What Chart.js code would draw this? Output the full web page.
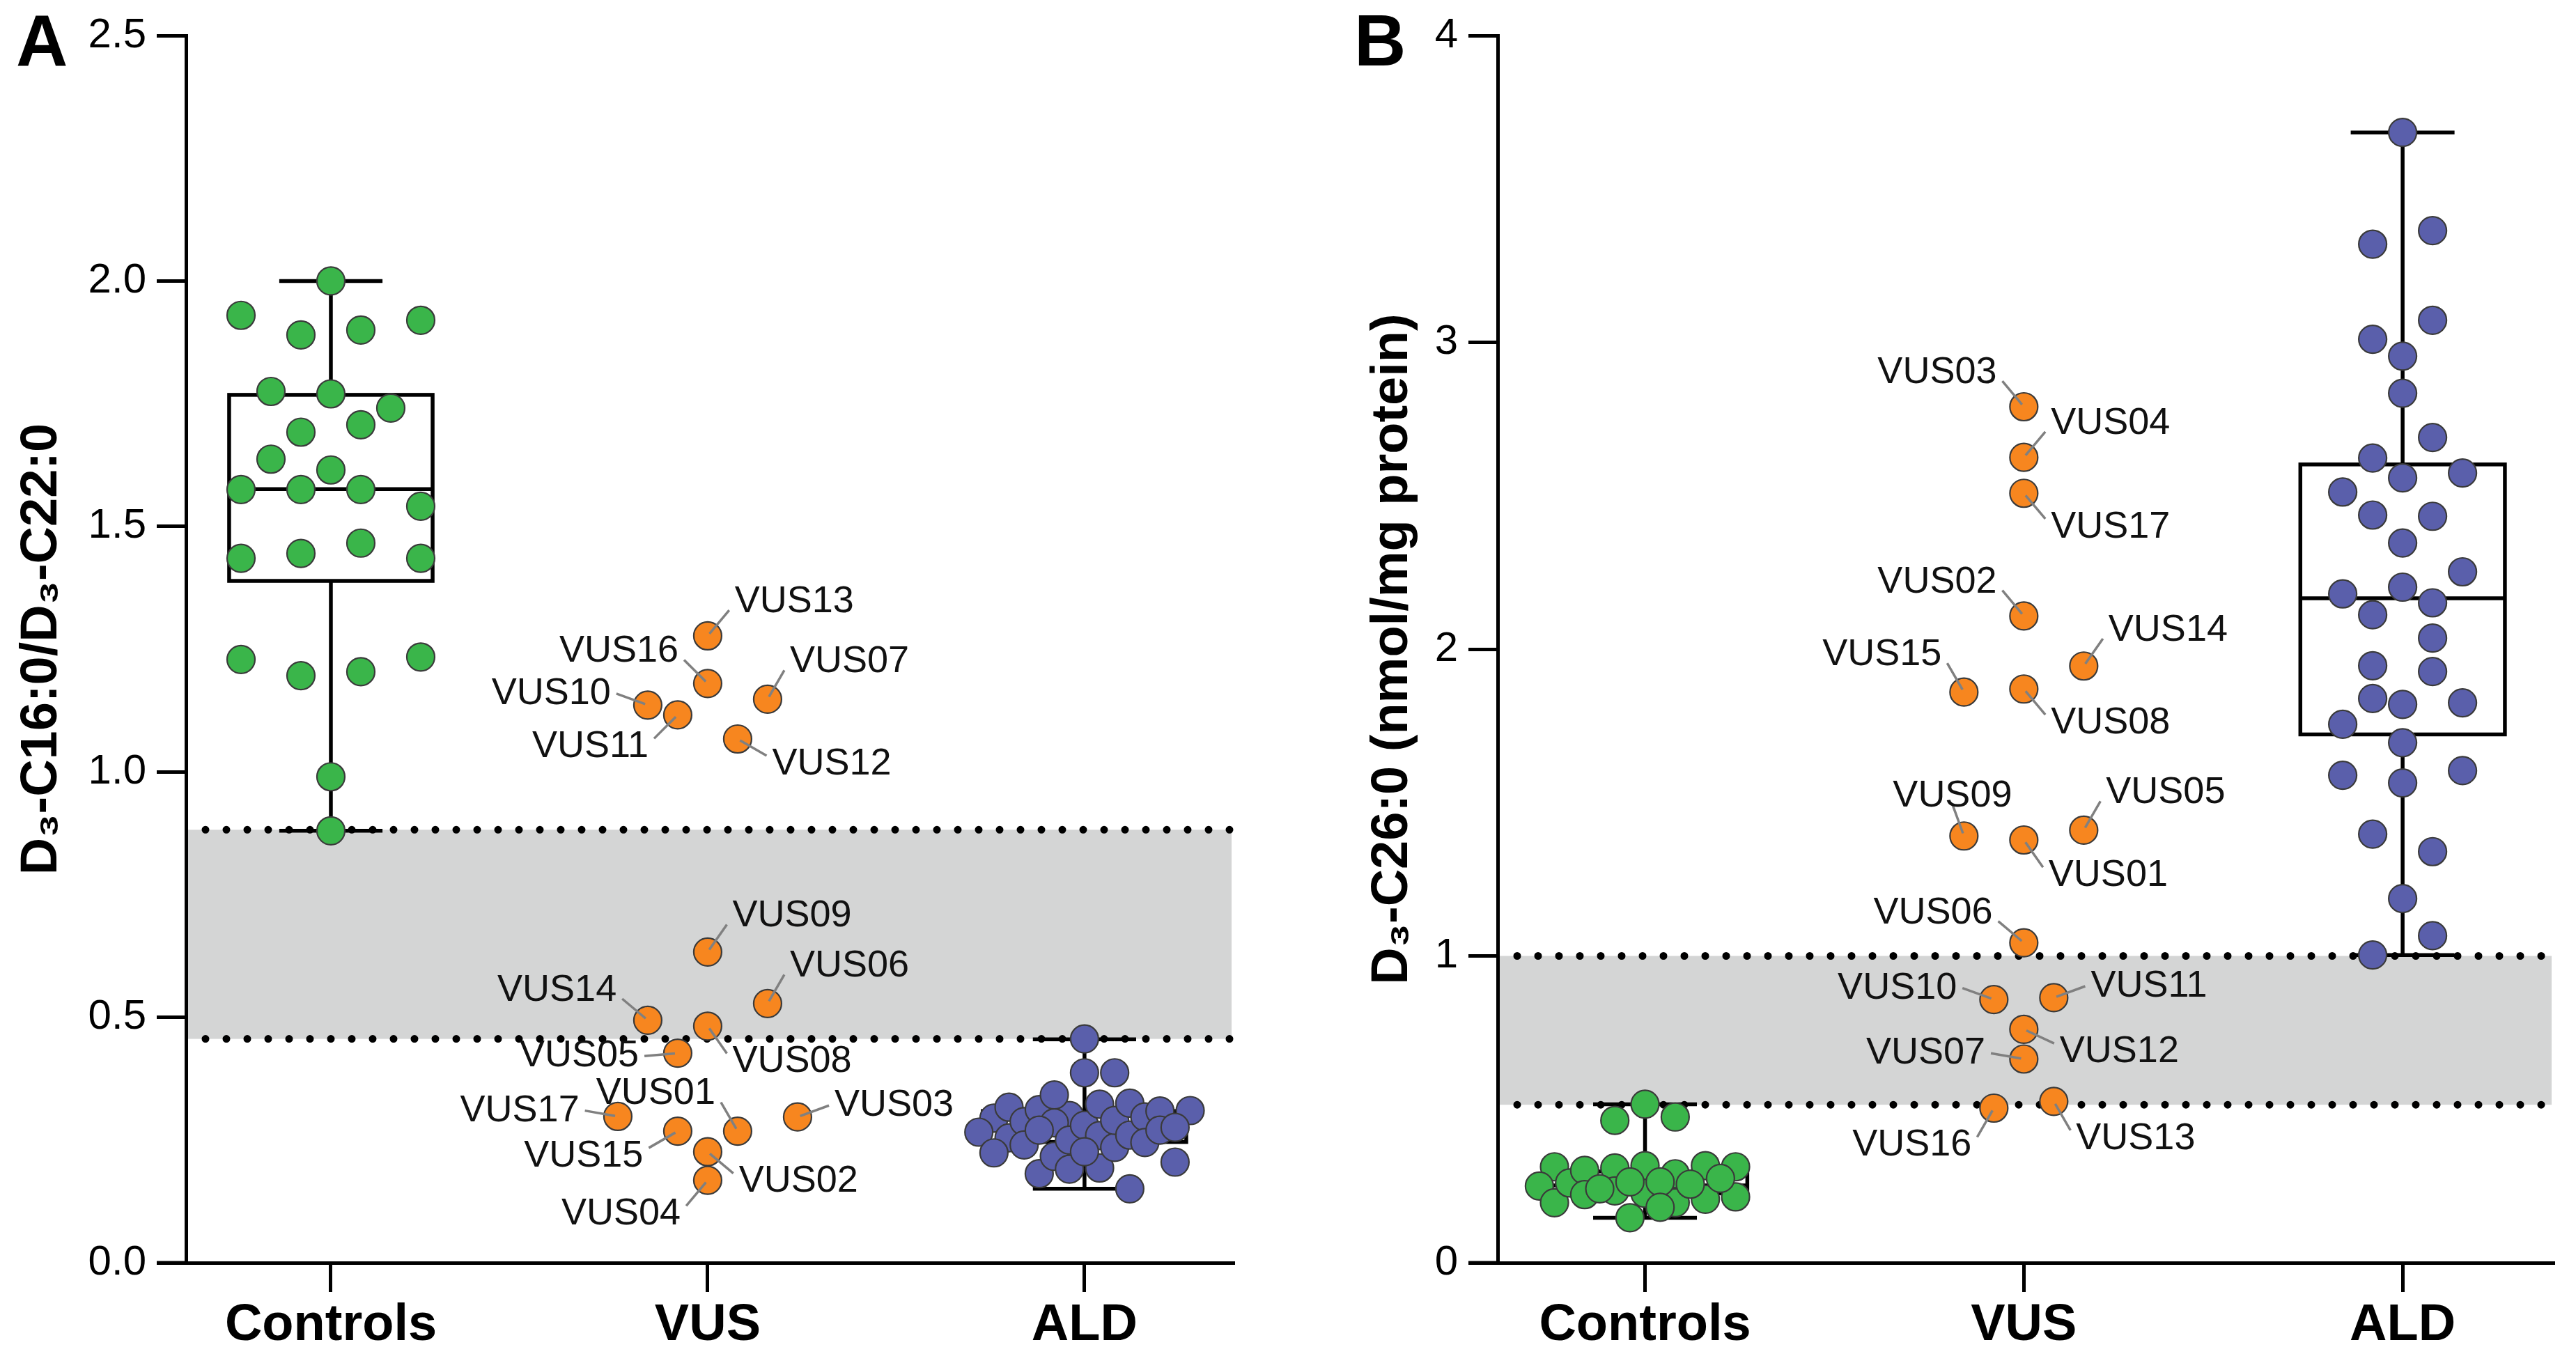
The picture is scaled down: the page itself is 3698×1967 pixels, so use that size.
<!DOCTYPE html>
<html><head><meta charset="utf-8">
<script src="https://cdn.jsdelivr.net/npm/chart.js@4.4.1/dist/chart.umd.min.js"></script>
<style>
html,body{margin:0;padding:0;background:#fff;}
body{width:3698px;height:1967px;position:relative;overflow:hidden;font-family:'Liberation Sans',Arial,sans-serif;}
.wrap{position:absolute;top:0;height:1967px;}
#wa{left:0;width:1900px;}
#wb{left:1900px;width:1798px;}
canvas{display:block;}
.panel{position:absolute;font-weight:bold;font-size:103px;line-height:1;color:#000;font-family:'Liberation Sans',Arial,sans-serif;}
</style></head><body>
<div class="wrap" id="wa"><canvas id="ca"></canvas></div>
<div class="wrap" id="wb"><canvas id="cb"></canvas></div>
<div class="panel" style="left:23px;top:7px">A</div>
<div class="panel" style="left:1944px;top:7px">B</div>
<script>
// ---------------- data ----------------
const categories = ['Controls', 'VUS', 'ALD'];

// Panel A: D3-C16:0 / D3-C22:0
const ticksA = [0, 0.5, 1.0, 1.5, 2.0, 2.5];
const controlsA = [2.0, 1.93, 1.89, 1.90, 1.92, 1.775, 1.77, 1.637, 1.692, 1.707, 1.741, 1.575, 1.615, 1.575, 1.575, 1.541, 1.435, 1.445, 1.466, 1.435, 1.229, 1.196, 1.204, 1.234, 0.99, 0.88];
const vusNamesA = ['VUS13','VUS10','VUS16','VUS07','VUS11','VUS12','VUS09','VUS14','VUS08','VUS06','VUS05','VUS17','VUS15','VUS01','VUS03','VUS02','VUS04'];
const vusA = [1.277, 1.136, 1.18, 1.148, 1.116, 1.067, 0.633, 0.494, 0.482, 0.528, 0.427, 0.298, 0.268, 0.268, 0.297, 0.226, 0.168];
const aldA = [0.2946, 0.3168, 0.266, 0.2545, 0.2875, 0.2238, 0.312, 0.30, 0.3418, 0.240, 0.1813, 0.2851, 0.27, 0.2167, 0.387, 0.456, 0.1907, 0.25, 0.387, 0.193, 0.28, 0.323, 0.259, 0.2262, 0.235, 0.29, 0.325, 0.1506, 0.26, 0.297, 0.245, 0.205, 0.309, 0.27, 0.31, 0.2757];
// box stats: [min, q1, median, q3, max]
const boxControlsA = [0.88, 1.389, 1.576, 1.768, 2.0];
const boxAldA = [0.1506, 0.246, 0.272, 0.309, 0.455];
const cutoffA = [0.456, 0.882];

// Panel B: D3-C26:0 (nmol/mg protein)
const ticksB = [0, 1, 2, 3, 4];
const controlsB = [0.3127, 0.250, 0.1956, 0.26, 0.301, 0.222, 0.309, 0.234, 0.3166, 0.4638, 0.1466, 0.5166, 0.241, 0.226, 0.475, 0.2636, 0.29, 0.1956, 0.3166, 0.2069, 0.2636, 0.1806, 0.3127, 0.2146, 0.256, 0.2749];
const vusNamesB = ['VUS03','VUS04','VUS17','VUS02','VUS15','VUS08','VUS14','VUS09','VUS01','VUS05','VUS06','VUS10','VUS11','VUS12','VUS07','VUS16','VUS13'];
const vusB = [2.790, 2.625, 2.508, 2.108, 1.86, 1.87, 1.945, 1.391, 1.378, 1.41, 1.043, 0.858, 0.864, 0.761, 0.664, 0.504, 0.526];
const aldB = [3.684, 3.320, 3.364, 3.010, 3.072, 2.955, 2.834, 2.623, 2.690, 2.512, 2.558, 2.574, 2.437, 2.346, 2.433, 2.180, 2.202, 2.252, 2.112, 2.151, 1.946, 2.036, 1.839, 1.927, 1.755, 1.820, 1.825, 1.695, 1.589, 1.564, 1.604, 1.397, 1.340, 1.187, 1.003, 1.066];
const boxControlsB = [0.1465, 0.226, 0.252, 0.2976, 0.5166];
const boxAldB = [1.003, 1.722, 2.166, 2.602, 3.684];
const cutoffB = [0.515, 1.0];

// ---------------- label layout (leader-line direction, degrees) ----------------
const labelDirA = {VUS13:50, VUS16:135, VUS07:60, VUS10:160, VUS11:-135, VUS12:-30, VUS09:55, VUS06:60, VUS14:140, VUS08:-55, VUS05:185, VUS01:120, VUS17:170, VUS03:20, VUS15:-150, VUS02:-40, VUS04:-130};
const labelDirB = {VUS03:130, VUS04:50, VUS17:-50, VUS02:130, VUS14:55, VUS15:120, VUS08:-50, VUS09:110, VUS01:-55, VUS05:60, VUS06:140, VUS10:160, VUS11:20, VUS12:-25, VUS07:170, VUS16:-120, VUS13:-60};

// ---------------- style ----------------
const GREEN = '#3ab54a', ORANGE = '#f7861f', BLUE = '#5a5fab', EDGE = '#3a3a3a';
const FONT = "'Liberation Sans', Arial, Helvetica, sans-serif";
const R = 20;
const BOX_HALF = 0.27, CAP_HALF = 0.137;
const SWARM = {rowGap: 40, maxRow: 7, spacing: 86, halfWidth: 130, minDist: 40};
Chart.defaults.font.family = FONT;
Chart.defaults.color = '#000';

// beeswarm layout (pixel offsets from category centre)
function swarmOffsets(values, yScale, o) {
  const py = values.map(v => yScale.getPixelForValue(v));
  const idx = values.map((v, i) => i).sort((a, b) => (values[b] - values[a]) || (a - b));
  const rows = [];
  let cur = null;
  for (const i of idx) {
    if (cur && (py[i] - py[cur[0]]) < o.rowGap && cur.length < o.maxRow) cur.push(i);
    else { cur = [i]; rows.push(cur); }
  }
  const nMax = Math.max(...rows.map(r => r.length));
  const sp = nMax > 1 ? Math.min(o.spacing, 2 * o.halfWidth / (nMax - 1)) : o.spacing;
  const step = sp / 2;
  const off = new Array(values.length).fill(0);
  const placed = [];
  const minD = (row, base, s) => {
    let m = Infinity;
    row.forEach((i, k) => placed.forEach(p => { m = Math.min(m, Math.hypot(p.x - (base[k] + s), p.y - py[i])); }));
    return m;
  };
  const width = (base, s) => Math.max(...base.map(b => Math.abs(b + s)));
  for (const row of rows) {
    row.sort((a, b) => a - b);
    const n = row.length;
    const base = row.map((_, k) => (k - (n - 1) / 2) * sp);
    const shifts = [0];
    for (let k = 1; k <= 6; k++) shifts.push(-k * step, k * step);
    let chosen = null;
    for (const s of shifts) {
      if (width(base, s) > o.halfWidth + 0.5) continue;
      if (minD(row, base, s) >= o.minDist) { chosen = s; break; }
    }
    if (chosen === null) {
      let best = -1;
      for (const s of [0, -step, step]) {
        if (s !== 0 && width(base, s) > o.halfWidth + step + 0.5) continue;
        const m = minD(row, base, s);
        if (m > best + 0.5) { best = m; chosen = s; }
      }
    }
    row.forEach((i, k) => { off[i] = base[k] + chosen; placed.push({x: off[i], y: py[i]}); });
  }
  return off;
}

const decorPlugin = {
  id: 'decor',
  beforeDatasetsDraw(chart) {
    const P = chart.options.plugins.decor;
    const {ctx, chartArea: {left, right, bottom}, scales: {x, y}} = chart;
    const yHi = y.getPixelForValue(P.cutoff[1]), yLo = y.getPixelForValue(P.cutoff[0]);
    ctx.save();
    ctx.fillStyle = '#d4d5d5';
    ctx.fillRect(left + 3, yHi, right - left - 5, yLo - yHi);
    ctx.strokeStyle = '#000';
    ctx.lineWidth = 11; ctx.lineCap = 'round'; ctx.setLineDash([0, 30]);
    for (const yy of [yHi, yLo]) { ctx.beginPath(); ctx.moveTo(left + 28, yy); ctx.lineTo(right, yy); ctx.stroke(); }
    ctx.setLineDash([]); ctx.lineCap = 'butt';
    ctx.lineWidth = 5.5;
    for (const b of P.boxes) {
      const [mn, q1, md, q3, mx] = b.stats;
      const xc = x.getPixelForValue(b.cat);
      const xl = x.getPixelForValue(b.cat - BOX_HALF), xr = x.getPixelForValue(b.cat + BOX_HALF);
      const cl = x.getPixelForValue(b.cat - CAP_HALF), cr = x.getPixelForValue(b.cat + CAP_HALF);
      const Y = v => y.getPixelForValue(v);
      ctx.beginPath();
      ctx.moveTo(xc, Y(q3)); ctx.lineTo(xc, Y(mx));
      ctx.moveTo(xc, Y(q1)); ctx.lineTo(xc, Y(mn));
      ctx.moveTo(cl, Y(mx)); ctx.lineTo(cr, Y(mx));
      ctx.moveTo(cl, Y(mn)); ctx.lineTo(cr, Y(mn));
      ctx.moveTo(xl, Y(md)); ctx.lineTo(xr, Y(md));
      ctx.stroke();
      ctx.strokeRect(xl, Y(q3), xr - xl, Y(q1) - Y(q3));
    }
    // x axis line extends under the y tick marks
    ctx.lineWidth = 5;
    ctx.beginPath(); ctx.moveTo(left - 42, bottom); ctx.lineTo(left, bottom); ctx.stroke();
    ctx.restore();
  },
  afterDatasetsDraw(chart) {
    const P = chart.options.plugins.decor;
    const L = P.labels;
    const {ctx} = chart;
    const meta = chart.getDatasetMeta(L.dataset);
    ctx.save();
    ctx.font = '54px ' + FONT;
    ctx.fillStyle = '#111';
    ctx.strokeStyle = '#808080';
    ctx.lineWidth = 3.5;
    const RL = 48, GX = 8, GY = 12;
    meta.data.forEach((pt, i) => {
      const name = L.names[i];
      const a = L.dir[name] * Math.PI / 180;
      const c = Math.cos(a), s = Math.sin(a);
      const ex = pt.x + RL * c, ey = pt.y - RL * s;
      ctx.beginPath(); ctx.moveTo(pt.x + 4 * c, pt.y - 4 * s); ctx.lineTo(ex, ey); ctx.stroke();
      ctx.textAlign = c > 0.35 ? 'left' : (c < -0.35 ? 'right' : 'center');
      ctx.textBaseline = 'middle';
      const tx = c > 0.35 ? ex + GX : (c < -0.35 ? ex - GX : ex);
      const ty = s > 0.35 ? ey - GY : (s < -0.35 ? ey + GY : ey);
      ctx.fillText(name, tx, ty);
    });
    ctx.restore();
  }
};

function makeChart(canvasId, P) {
  const ds = (vals, cat, color, label) => ({
    label, data: vals.map(v => ({x: cat, y: v})),
    backgroundColor: color, borderColor: EDGE, borderWidth: 2.2,
    pointRadius: R, pointHoverRadius: R, showLine: false
  });
  const axisGrid = {display: true, drawOnChartArea: false, drawTicks: true, tickLength: 42, tickWidth: 5, tickColor: '#000', color: '#000', lineWidth: 5};
  const chart = new Chart(document.getElementById(canvasId), {
    type: 'scatter',
    data: {datasets: [
      ds(P.controls, 0, GREEN, categories[0]),
      ds(P.vus, 1, ORANGE, categories[1]),
      ds(P.ald, 2, BLUE, categories[2])
    ]},
    options: {
      responsive: true, maintainAspectRatio: false, animation: false, events: [],
      layout: {padding: {top: 48, right: P.padRight, bottom: 0, left: 0}},
      plugins: {
        legend: {display: false}, tooltip: {enabled: false},
        decor: {
          cutoff: P.cutoff,
          boxes: [{cat: 0, stats: P.boxControls}, {cat: 2, stats: P.boxAld}],
          labels: {dataset: 1, names: P.vusNames, dir: P.labelDir}
        }
      },
      scales: {
        x: {
          type: 'linear', min: P.xMin, max: P.xMax,
          afterBuildTicks: s => { s.ticks = categories.map((c, i) => ({value: i})); },
          ticks: {callback: v => categories[v], font: {size: 74, weight: 'bold'}, color: '#000', padding: 4, maxRotation: 0, autoSkip: false},
          grid: axisGrid,
          border: {display: true, width: 5, color: '#000'},
          afterFit: s => { s.height = 154; }
        },
        y: {
          type: 'linear', min: P.ticks[0], max: P.ticks[P.ticks.length - 1],
          afterBuildTicks: s => { s.ticks = P.ticks.map(v => ({value: v})); },
          ticks: {callback: P.tickFmt, font: {size: 60}, color: '#000', padding: 15},
          grid: axisGrid,
          border: {display: true, width: 5, color: '#000'},
          title: {display: true, text: P.title, font: {size: 74, weight: 'bold'}, color: '#000', padding: {top: P.titlePad, bottom: 0}},
          afterFit: s => { s.width = P.yWidth; }
        }
      }
    },
    plugins: [decorPlugin]
  });
  // swarm layout through the chart's own scales
  const x = chart.scales.x, y = chart.scales.y;
  const pxPerX = x.getPixelForValue(1) - x.getPixelForValue(0);
  [P.controls, P.vus, P.ald].forEach((vals, di) => {
    const off = swarmOffsets(vals, y, SWARM);
    chart.data.datasets[di].data = vals.map((v, i) => ({x: di + off[i] / pxPerX, y: v}));
  });
  chart.update('none');
  return chart;
}

makeChart('ca', {
  controls: controlsA, vus: vusA, ald: aldA, vusNames: vusNamesA, labelDir: labelDirA,
  boxControls: boxControlsA, boxAld: boxAldA, cutoff: cutoffA, ticks: ticksA,
  tickFmt: v => Number(v).toFixed(1), title: 'D\u2083-C16:0/D\u2083-C22:0', titlePad: 16,
  yWidth: 267, padRight: 130, xMin: -0.3845, xMax: 2.394
});
makeChart('cb', {
  controls: controlsB, vus: vusB, ald: aldB, vusNames: vusNamesB, labelDir: labelDirB,
  boxControls: boxControlsB, boxAld: boxAldB, cutoff: cutoffB, ticks: ticksB,
  tickFmt: v => String(v), title: 'D\u2083-C26:0 (nmol/mg protein)', titlePad: 55,
  yWidth: 250, padRight: 33, xMin: -0.389, xMax: 2.397
});
</script>
</body></html>
